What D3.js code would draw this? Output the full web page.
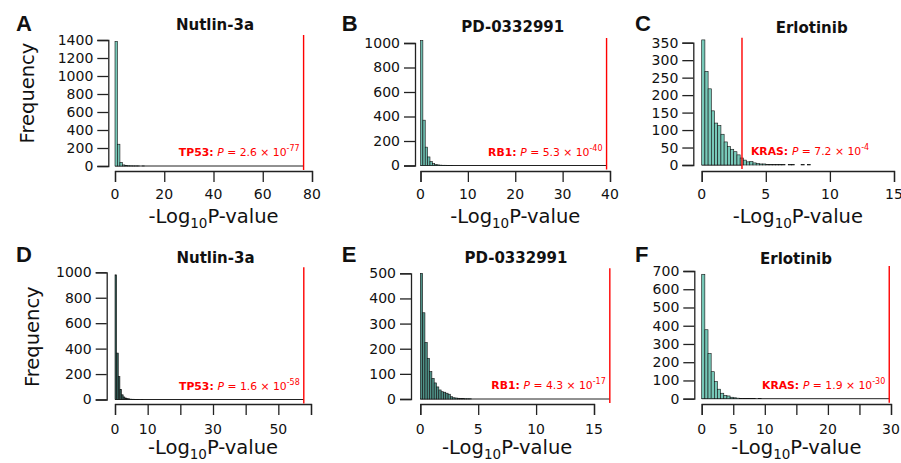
<!DOCTYPE html>
<html>
<head>
<meta charset="utf-8">
<script src="https://cdn.jsdelivr.net/npm/d3@7"></script>
<style>
  body { margin: 0; background: #fff; }
  svg text { font-family: "DejaVu Sans", sans-serif; fill: #111; }
</style>
</head>
<body>
<div id="chart"></div>
<script>
// histogram counts, first bin starts at 0
var countsA = [1385, 242, 40, 12, 5, 3, 2, 1, 1, 1, 0, 1]
var countsB = [1020, 370, 150, 70, 33, 15, 8, 5, 3, 2, 2, 1, 1, 1]
var countsC = [358, 268, 218, 155, 120, 113, 88, 66, 53, 45, 38, 29, 20, 14, 9, 10, 6, 4, 3, 3, 2, 2, 1, 1, 2, 1, 0, 1, 1, 0, 0, 1, 0, 1]
var countsD = [980, 365, 180, 80, 37, 20, 12, 8, 5, 3, 2, 2, 1, 1, 1, 0, 1]
var countsE = [500, 343, 225, 162, 109, 82, 64, 48, 36, 29, 27, 23, 19, 9, 5, 4, 3, 2, 2, 1, 1, 1]
var countsF = [682, 378, 248, 148, 94, 52, 30, 18, 15, 8, 5, 3, 2, 2, 1, 1, 1, 0, 1]

var binWidths = [1, 0.5, 0.25, 0.5, 0.2, 0.5]
var letters = ['A', 'B', 'C', 'D', 'E', 'F']
var drugs = ['Nutlin-3a', 'PD-0332991', 'Erlotinib', 'Nutlin-3a', 'PD-0332991', 'Erlotinib']
var genes = ['TP53', 'RB1', 'KRAS', 'TP53', 'RB1', 'KRAS']
var pMantissa = ['2.6', '5.3', '7.2', '1.6', '4.3', '1.9']
var pExponent = ['-77', '-40', '-4', '-58', '-17', '-30']

var xTicks = [
  [0, 20, 40, 60, 80],
  [0, 10, 20, 30, 40],
  [0, 5, 10, 15],
  [0, 10, 20, 30, 40, 50, 60],
  [0, 5, 10, 15],
  [0, 5, 10, 15, 20, 25, 30]
]
var xTickLabels = [
  ['0', '20', '40', '60', '80'],
  ['0', '10', '20', '30', '40'],
  ['0', '5', '10', '15'],
  ['0', '10', '', '30', '', '50', ''],
  ['0', '5', '10', '15'],
  ['0', '5', '10', '', '20', '', '30']
]
var yTicks = [
  [0, 200, 400, 600, 800, 1000, 1200, 1400],
  [0, 200, 400, 600, 800, 1000],
  [0, 50, 100, 150, 200, 250, 300, 350],
  [0, 200, 400, 600, 800, 1000],
  [0, 100, 200, 300, 400, 500],
  [0, 100, 200, 300, 400, 500, 600, 700]
]

var allCounts = [countsA, countsB, countsC, countsD, countsE, countsF]

// pixel layout of each panel
var layout = [
  {x0: 115,   x1: 312,   yAxisX: 108.3, y0: 166,   yTop: 40,    xAxisY: 171, tickY: 199,   labY: 222.5, title: [215, 30],    letter: [16, 30.7],    fill: '#76c7b7', ylab: [34.3, 93],  annoEnd: true},
  {x0: 420.5, x1: 610,   yAxisX: 415,   y0: 165.5, yTop: 43,    xAxisY: 171, tickY: 199,   labY: 222.5, title: [512.7, 32],  letter: [341.7, 30.7], fill: '#6dbcae', ylab: null, annoEnd: true},
  {x0: 701.7, x1: 894,   yAxisX: 693.3, y0: 165,   yTop: 42.7,  xAxisY: 171, tickY: 199,   labY: 222.5, title: [811.7, 33],  letter: [635, 30.7],   fill: '#78c9b9', ylab: null, annoEnd: false},
  {x0: 115,   x1: 311,   yAxisX: 106.7, y0: 399.5, yTop: 272.3, xAxisY: 404, tickY: 434,   labY: 453.5, title: [215.5, 263.3], letter: [16, 261.7], fill: '#345f58', ylab: [39.3, 336.7], annoEnd: true},
  {x0: 420.3, x1: 594,   yAxisX: 411,   y0: 399,   yTop: 273.3, xAxisY: 404, tickY: 434,   labY: 453.5, title: [516, 263.3], letter: [341.7, 262.3], fill: '#4f9187', ylab: null, annoEnd: true},
  {x0: 701.7, x1: 891,   yAxisX: 694.3, y0: 398.7, yTop: 271,   xAxisY: 404, tickY: 434,   labY: 453.5, title: [796, 264.3], letter: [635, 262.3],  fill: '#76c7b7', ylab: null, annoEnd: true}
]

var svg = d3.select("#chart").append("svg")
    .attr("width", 901)
    .attr("height", 463)

for (var i = 0; i < 6; i++) {
    drawPanel(i)
}

function drawPanel(i) {
    var L = layout[i],
        counts = allCounts[i],
        bw = binWidths[i],
        xt = xTicks[i],
        yt = yTicks[i]
    var g = svg.append("g")

    var xScale = d3.scaleLinear()
        .domain([0, xt[xt.length - 1]])
        .range([L.x0, L.x1])
    var yScale = d3.scaleLinear()
        .domain([0, yt[yt.length - 1]])
        .range([L.y0, L.yTop])

    var driver = -(Math.log10(+pMantissa[i]) + (+pExponent[i]))

    // empty bins out to the driver gene
    g.append("line")
        .attr("x1", xScale(0)).attr("x2", xScale(driver))
        .attr("y1", yScale(0)).attr("y2", yScale(0))
        .attr("stroke", "#222")
        .attr("stroke-width", 1)

    g.selectAll("rect.bar")
        .data(counts)
        .enter().append("rect")
        .attr("class", "bar")
        .attr("x", (d, k) => xScale(k * bw))
        .attr("width", (d, k) => xScale((k + 1) * bw) - xScale(k * bw))
        .attr("y", d => yScale(d))
        .attr("height", d => yScale(0) - yScale(d))
        .attr("fill", L.fill)
        .attr("stroke", "#111")
        .attr("stroke-width", 0.6)

    // x axis
    var xAxis = g.append("g")
        .attr("transform", `translate(0,${L.xAxisY})`)
        .call(d3.axisBottom(xScale).tickValues(xt).tickSize(11).tickFormat(""))
    xAxis.select(".domain").attr("stroke", "#222").attr("stroke-width", 1.3)
    xAxis.selectAll(".tick line").attr("stroke", "#222").attr("stroke-width", 1.3)

    g.selectAll("text.xtick")
        .data(xt)
        .enter().append("text")
        .attr("class", "xtick")
        .attr("x", d => xScale(d))
        .attr("y", L.tickY)
        .attr("text-anchor", "middle")
        .style("font-size", "14px")
        .text((d, k) => xTickLabels[i][k])

    // y axis
    var yAxis = g.append("g")
        .attr("transform", `translate(${L.yAxisX},0)`)
        .call(d3.axisLeft(yScale).tickValues(yt).tickSize(11).tickPadding(4).tickFormat(d3.format("d")))
    yAxis.select(".domain").attr("stroke", "#222").attr("stroke-width", 1.3)
    yAxis.selectAll(".tick line").attr("stroke", "#222").attr("stroke-width", 1.3)
    yAxis.selectAll(".tick text")
        .style("font-size", "14px")
        .style("font-family", "DejaVu Sans")
        .attr("fill", "#111")

    // x axis title
    var xt1 = g.append("text")
        .attr("x", (L.x0 + L.x1) / 2)
        .attr("y", L.labY)
        .attr("text-anchor", "middle")
        .style("font-size", "19.5px")
    xt1.append("tspan").text("-Log")
    xt1.append("tspan").attr("dy", 5).style("font-size", "13.5px").text("10")
    xt1.append("tspan").attr("dy", -5).text("P-value")

    if (L.ylab) {
        g.append("text")
            .attr("transform", `translate(${L.ylab[0]},${L.ylab[1]}) rotate(-90)`)
            .attr("text-anchor", "middle")
            .style("font-size", "19.5px")
            .text("Frequency")
    }

    // title and panel letter
    g.append("text")
        .attr("x", L.title[0])
        .attr("y", L.title[1])
        .attr("text-anchor", "middle")
        .style("font-size", "15px")
        .style("font-weight", "bold")
        .text(drugs[i])

    g.append("text")
        .attr("x", L.letter[0])
        .attr("y", L.letter[1])
        .style("font-family", "Liberation Sans, Arial, sans-serif")
        .style("font-size", "22px")
        .style("font-weight", "bold")
        .text(letters[i])

    // driver gene line
    var rx = xScale(driver)
    g.append("line")
        .attr("x1", rx).attr("x2", rx)
        .attr("y1", L.yTop - 5).attr("y2", L.y0 + 4)
        .attr("stroke", "red")
        .attr("stroke-width", 1.4)

    var anno = g.append("text")
        .attr("x", L.annoEnd ? rx - 4 : rx + 9)
        .attr("y", L.y0 - 10)
        .attr("text-anchor", L.annoEnd ? "end" : "start")
        .style("font-size", "10.8px")
    anno.append("tspan").attr("fill", "red").style("font-weight", "bold").text(genes[i] + ": ")
    anno.append("tspan").attr("fill", "red").style("font-style", "italic").text("P")
    anno.append("tspan").attr("fill", "red").text(" = " + pMantissa[i] + " \u00d7 10")
    anno.append("tspan").attr("fill", "red").attr("dy", -5).style("font-size", "8px").text(pExponent[i])
}
</script>
</body>
</html>
